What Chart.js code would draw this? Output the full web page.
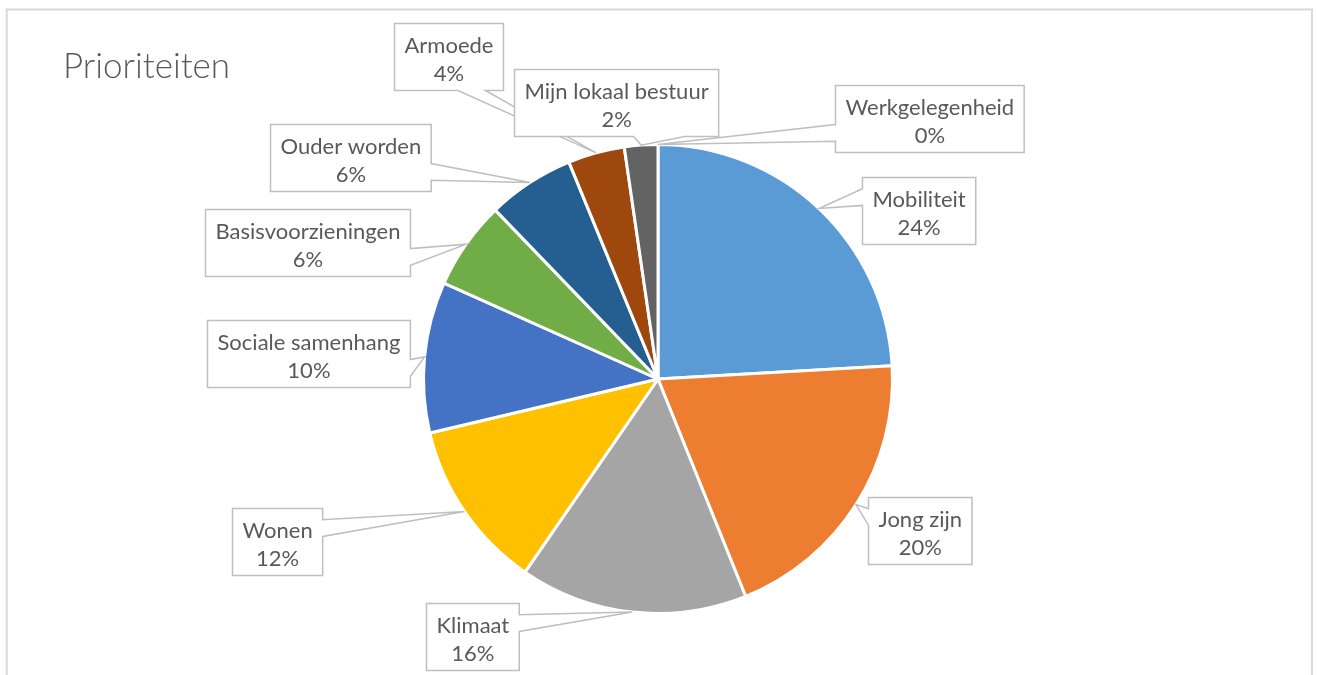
<!DOCTYPE html>
<html>
<head>
<meta charset="utf-8">
<script src="https://cdn.jsdelivr.net/npm/chart.js@4.4.0/dist/chart.umd.min.js"></script>
<style>
  html, body { margin: 0; padding: 0; background: #fff; }
  #wrap { width: 1317px; height: 675px; }
</style>
</head>
<body>
<div id="wrap"><canvas id="chart" width="1317" height="675"></canvas></div>
<script>
const chartTitle = 'Prioriteiten';
const categories = ['Mobiliteit', 'Jong zijn', 'Klimaat', 'Wonen', 'Sociale samenhang',
  'Basisvoorzieningen', 'Ouder worden', 'Armoede', 'Mijn lokaal bestuur', 'Werkgelegenheid'];
const values = [24.1, 19.8, 15.7, 11.7, 10.4, 6.1, 6.0, 3.9, 2.3, 0];
const sliceColors = ['#5B9BD5', '#ED7D31', '#A5A5A5', '#FFC000', '#4472C4',
  '#70AD47', '#255E91', '#9E480E', '#636363', '#997300'];

// where each label box sits, relative to the point on the rim it points at (px)
const calloutOffsets = [[100, 2], [64, 26], [-160, 24], [-187, 30], [-116, -3],
  [-159, -2], [-180, -25], [-148, -96], [-25, -43], [271, -26]];

const labelFont = '22px Lato';
const labelColor = '#595959';

function calloutPath(ctx, l, t, w, h, tx, ty) {
  // same shape as the office "wedgeRectCallout"
  const r = l + w, b = t + h, hc = l + w / 2, vc = t + h / 2;
  const dx = tx - hc, dy = ty - vc;
  const x1 = l + w * (dx > 0 ? 7 : 2) / 12, x2 = l + w * (dx > 0 ? 10 : 5) / 12;
  const y1 = t + h * (dy > 0 ? 7 : 2) / 12, y2 = t + h * (dy > 0 ? 10 : 5) / 12;
  const sideways = Math.abs(dx) * h > Math.abs(dy) * w;
  ctx.beginPath();
  ctx.moveTo(l, t);
  if (!sideways && dy < 0) { ctx.lineTo(x1, t); ctx.lineTo(tx, ty); ctx.lineTo(x2, t); }
  ctx.lineTo(r, t);
  if (sideways && dx > 0) { ctx.lineTo(r, y1); ctx.lineTo(tx, ty); ctx.lineTo(r, y2); }
  ctx.lineTo(r, b);
  if (!sideways && dy > 0) { ctx.lineTo(x2, b); ctx.lineTo(tx, ty); ctx.lineTo(x1, b); }
  ctx.lineTo(l, b);
  if (sideways && dx < 0) { ctx.lineTo(l, y2); ctx.lineTo(tx, ty); ctx.lineTo(l, y1); }
  ctx.closePath();
}

const framePlugin = {
  id: 'frame',
  beforeDraw(chart) {
    const ctx = chart.ctx;
    ctx.save();
    ctx.fillStyle = '#fff';
    ctx.fillRect(0, 0, chart.width, chart.height);
    ctx.strokeStyle = '#d9d9d9';
    ctx.lineWidth = 2;
    ctx.strokeRect(6.7, 9.5, 1305.3, 700);
    ctx.fillStyle = '#595959';
    ctx.font = '300 35px Lato';
    ctx.textAlign = 'left';
    ctx.textBaseline = 'alphabetic';
    ctx.fillText(chartTitle, 63, 78);
    ctx.restore();
  }
};

const calloutPlugin = {
  id: 'callouts',
  afterDatasetsDraw(chart) {
    const ctx = chart.ctx;
    const meta = chart.getDatasetMeta(0);
    const total = values.reduce((a, b) => a + b, 0);
    ctx.save();
    ctx.font = labelFont;
    meta.data.forEach((arc, i) => {
      const p = arc.getProps(['x', 'y', 'startAngle', 'endAngle', 'outerRadius'], true);
      const mid = (p.startAngle + p.endAngle) / 2;
      const tx = p.x + Math.cos(mid) * p.outerRadius;
      const ty = p.y + Math.sin(mid) * p.outerRadius;
      const lines = [categories[i], Math.round(values[i] / total * 100) + '%'];
      const w = Math.max(...lines.map(s => ctx.measureText(s).width)) + 20;
      const h = 67;
      const cx = tx + calloutOffsets[i][0], cy = ty + calloutOffsets[i][1];
      const l = Math.round(cx - w / 2) + 0.5, t = Math.round(cy - h / 2) + 0.5;
      calloutPath(ctx, l, t, w, h, tx, ty);
      ctx.fillStyle = '#fff';
      ctx.fill();
      ctx.strokeStyle = '#bfbfbf';
      ctx.lineWidth = 1.5;
      ctx.stroke();
      ctx.fillStyle = labelColor;
      ctx.textAlign = 'center';
      ctx.textBaseline = 'alphabetic';
      ctx.fillText(lines[0], l + w / 2, t + 29);
      ctx.fillText(lines[1], l + w / 2, t + 57);
    });
    ctx.restore();
  }
};

new Chart(document.getElementById('chart'), {
  type: 'pie',
  data: {
    labels: categories,
    datasets: [{
      data: values,
      backgroundColor: sliceColors,
      borderColor: '#ffffff',
      borderWidth: 3
    }]
  },
  options: {
    responsive: false,
    animation: false,
    layout: { padding: { top: 143, bottom: 60, left: 258, right: 259 } },
    plugins: {
      legend: { display: false },
      tooltip: { enabled: false },
      title: { display: false }
    }
  },
  plugins: [framePlugin, calloutPlugin]
});
</script>
</body>
</html>
